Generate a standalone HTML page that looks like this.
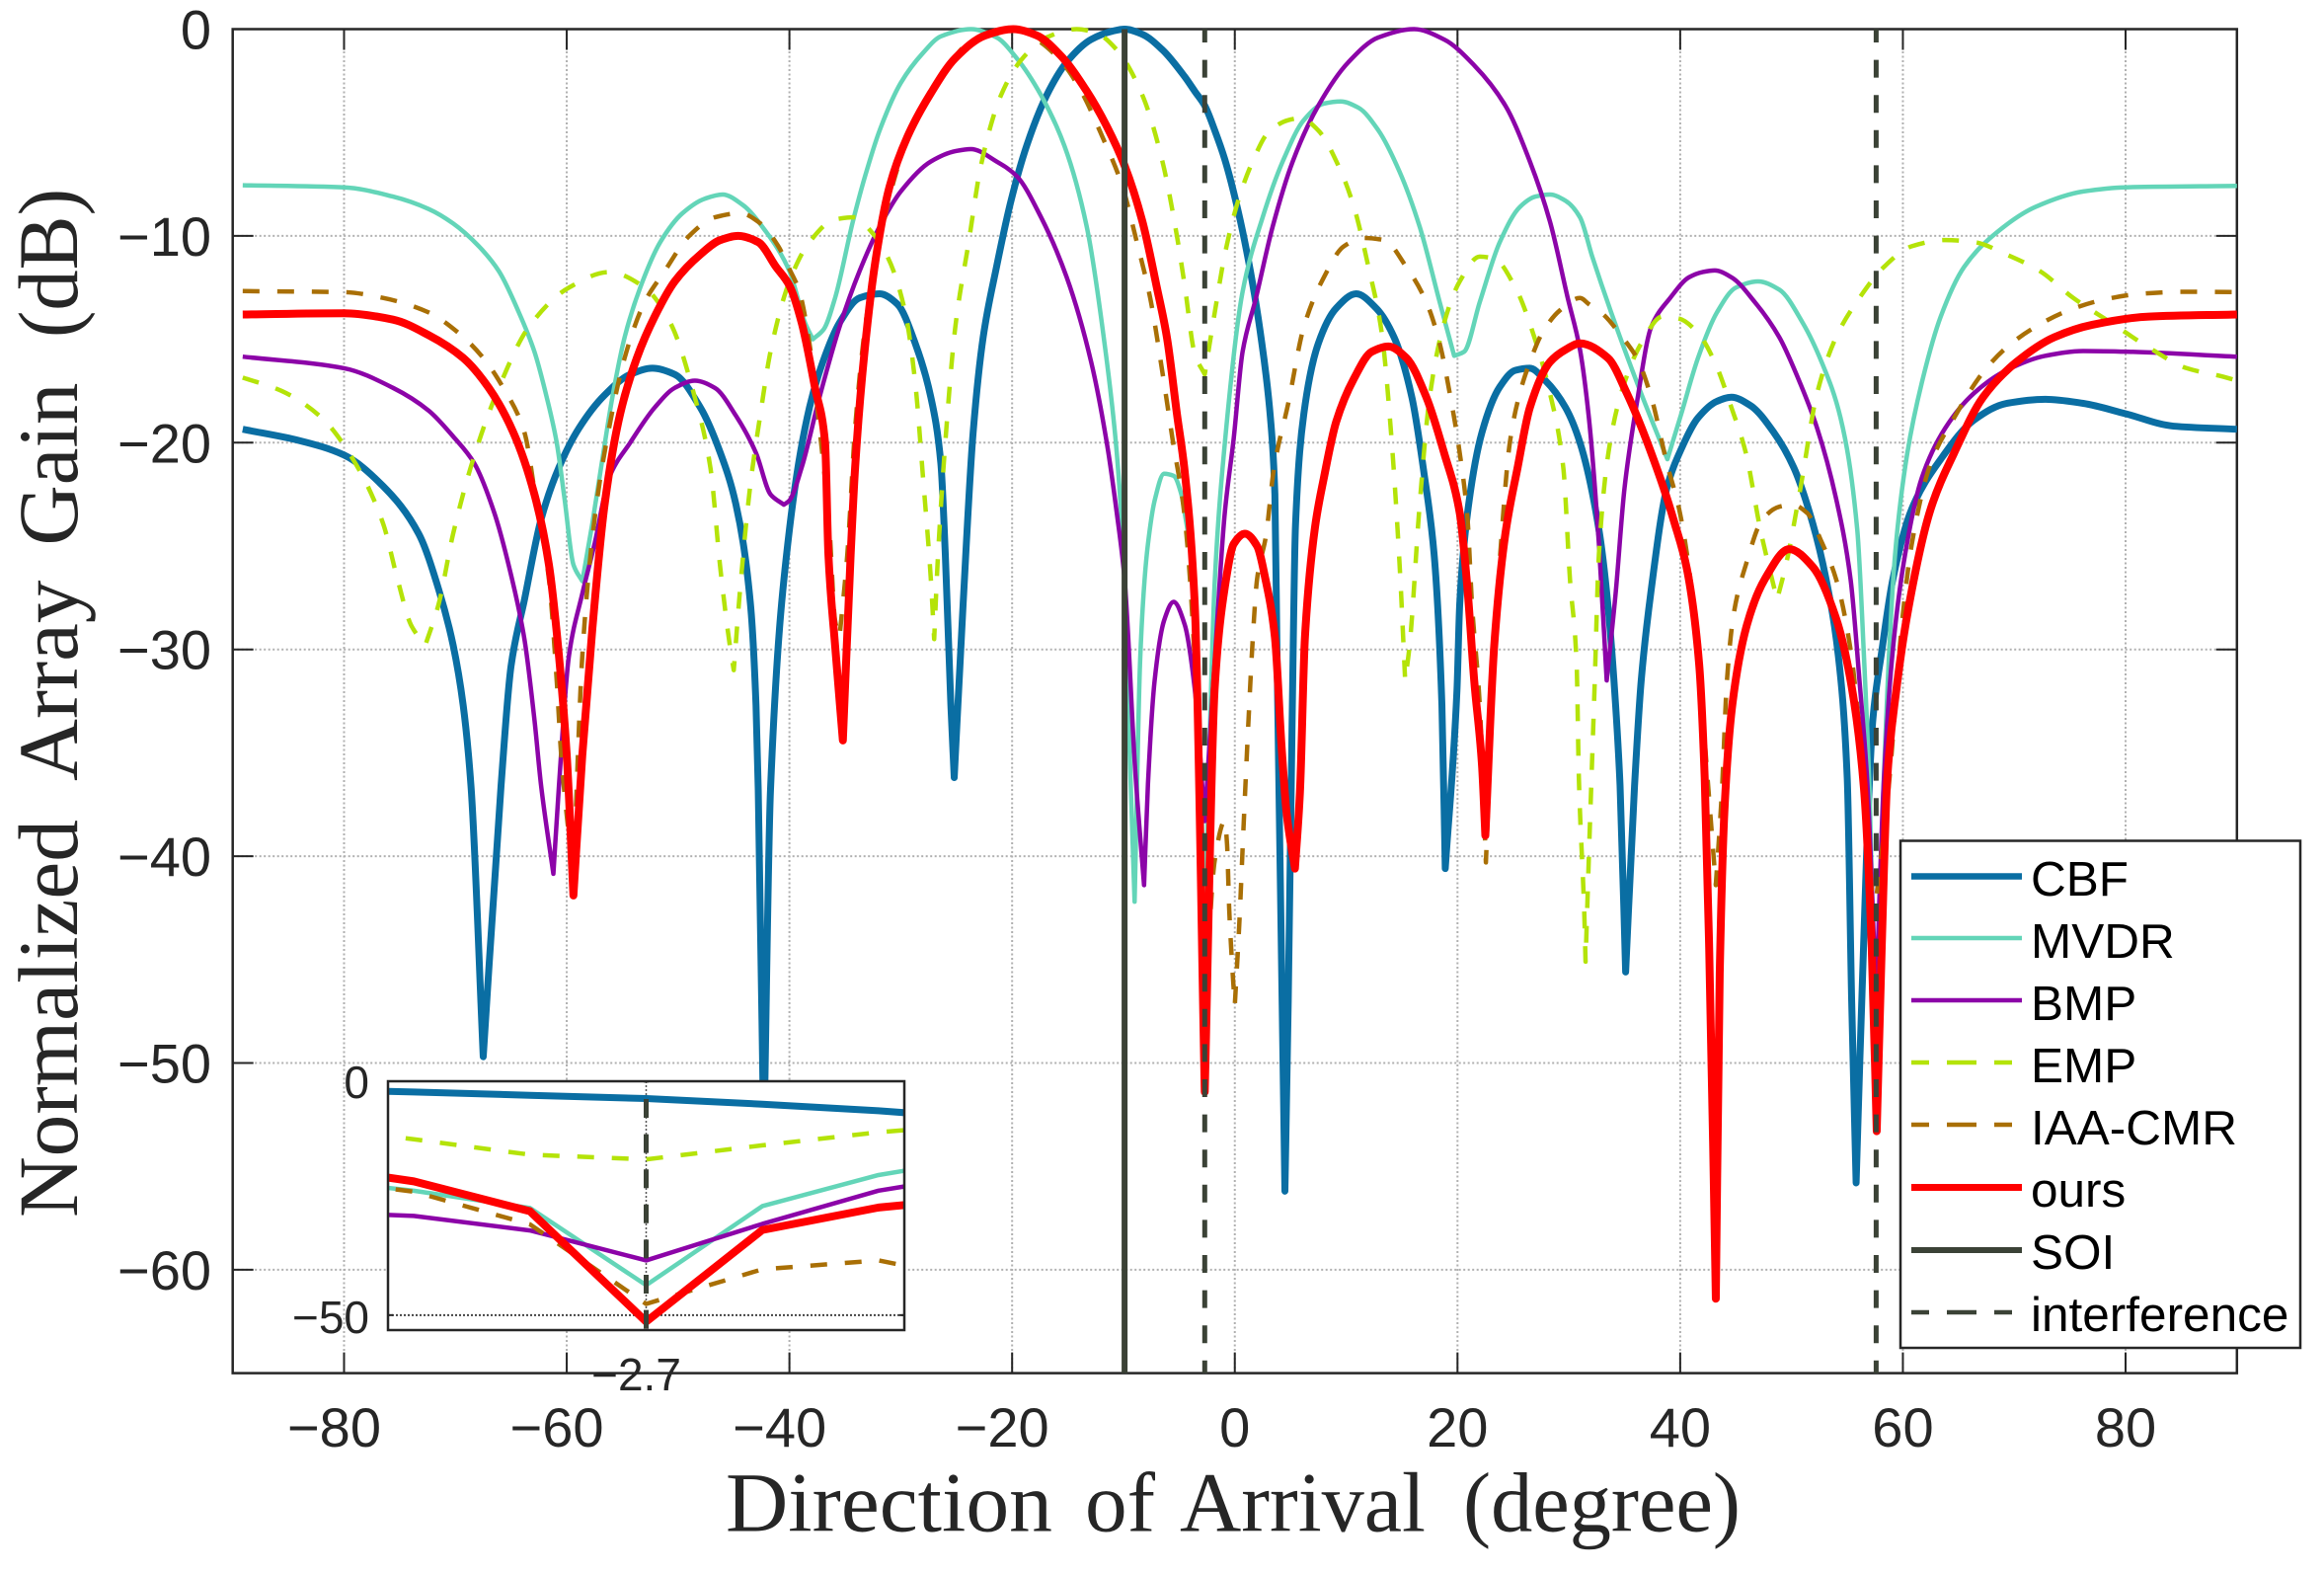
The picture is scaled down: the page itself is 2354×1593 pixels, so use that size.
<!DOCTYPE html>
<html lang="en">
<head>
<meta charset="utf-8">
<title>Normalized Array Gain vs Direction of Arrival</title>
<style>
html,body{margin:0;padding:0;background:#fff;width:2354px;height:1593px;overflow:hidden}
svg{display:block}
text{font-family:"Liberation Sans",sans-serif;fill:#262626}
.serif{font-family:"Liberation Serif",serif}
.leg{fill:#000;font-size:49.5px}
</style>
</head>
<body>
<svg id="chart" xmlns="http://www.w3.org/2000/svg" width="2354" height="1593" viewBox="0 0 2354 1593">
<defs><clipPath id="inset-clip"><rect x="393" y="1095" width="523" height="252"/></clipPath></defs>
<rect x="0" y="0" width="2354" height="1593" fill="#fff"/>
<g id="grid"></g>
<g id="axes"></g>
<g id="series"></g>
<g id="tickText"></g>
<text class="serif" transform="translate(78,1233) rotate(-90)" font-size="86"><tspan x="0" textLength="403" lengthAdjust="spacingAndGlyphs">Normalized</tspan> <tspan x="442" textLength="203.5" lengthAdjust="spacingAndGlyphs">Array</tspan> <tspan x="680.5" textLength="165" lengthAdjust="spacingAndGlyphs">Gain</tspan> <tspan x="891" textLength="151" lengthAdjust="spacingAndGlyphs">(dB)</tspan></text>
<text class="serif" y="1550.5" font-size="86"><tspan x="735" textLength="331" lengthAdjust="spacingAndGlyphs">Direction</tspan> <tspan x="1099" textLength="71" lengthAdjust="spacingAndGlyphs">of</tspan> <tspan x="1195" textLength="249" lengthAdjust="spacingAndGlyphs">Arrival</tspan> <tspan x="1482" textLength="281" lengthAdjust="spacingAndGlyphs">(degree)</tspan></text>

<g id="inset">
<rect x="393" y="1095" width="523" height="252" fill="#fff"/>
<g id="insetGrid"></g>
<g id="insetSeries" clip-path="url(#inset-clip)"></g>
<rect x="393" y="1095" width="523" height="252" fill="none" stroke="#262626" stroke-width="2.5"/>
<g id="insetText"></g>
</g>

<g id="legend">
<rect x="1925" y="851.5" width="405" height="513.5" fill="#fff" stroke="#262626" stroke-width="2.5"/>
<g><line x1="1936" x2="2048" y1="887.5" y2="887.5" stroke="#0a6ea3" stroke-width="6.5"/><text class="leg" x="2057" y="907">CBF</text></g>
<g><line x1="1936" x2="2048" y1="950" y2="950" stroke="#63d5b8" stroke-width="4.5"/><text class="leg" x="2057" y="970">MVDR</text></g>
<g><line x1="1936" x2="2048" y1="1013" y2="1013" stroke="#8c04a8" stroke-width="4.5"/><text class="leg" x="2057" y="1033">BMP</text></g>
<g><line x1="1936" x2="2038" y1="1076" y2="1076" stroke="#b4e308" stroke-width="4.5" stroke-dasharray="18 18 30 18 18"/><text class="leg" x="2057" y="1096">EMP</text></g>
<g><line x1="1936" x2="2038" y1="1139" y2="1139" stroke="#a96f05" stroke-width="4.5" stroke-dasharray="18 18 30 18 18"/><text class="leg" x="2057" y="1159">IAA-CMR</text></g>
<g><line x1="1936" x2="2048" y1="1202.5" y2="1202.5" stroke="#ff0000" stroke-width="7"/><text class="leg" x="2057" y="1222">ours</text></g>
<g><line x1="1936" x2="2048" y1="1266" y2="1266" stroke="#3b4236" stroke-width="6"/><text class="leg" x="2057" y="1285">SOI</text></g>
<g><line x1="1936" x2="2038" y1="1329" y2="1329" stroke="#3b4236" stroke-width="4.5" stroke-dasharray="18 18 30 18 18"/><text class="leg" x="2057" y="1348">interference</text></g>
</g>
</svg>

<script>
var xTickValues = [-80, -60, -40, -20, 0, 20, 40, 60, 80];
var xTickLabels = ['\u221280', '\u221260', '\u221240', '\u221220', '0', '20', '40', '60', '80'];
var yTickValues = [0, -10, -20, -30, -40, -50, -60];
var yTickLabels = ['0', '\u221210', '\u221220', '\u221230', '\u221240', '\u221250', '\u221260'];
var soiDoa = [-9.9];
var interferenceDoa = [-2.7, 57.6];
var insetXTickValues = [-2.7];
var insetXTickLabels = ['\u22122.7'];
var insetYTickValues = [0, -50];
var insetYTickLabels = ['0', '\u221250'];

var cbfDoa = [-89.1,-84,-80,-76.5,-73.3,-71.5,-70.2,-69.3,-68.6,-67.5,-65.9,-65,-63.8,-62.3,-60.7,-58.9,-56.6,-54.3,-52.3,-50.3,-48,-46.2,-44.8,-43.5,-43,-42.8,-42.3,-41.7,-40,-38.2,-37,-35.5,-33.7,-31.9,-30.3,-28.7,-27.3,-26.4,-26,-25.5,-25.2,-24.4,-23.5,-22.6,-21.4,-20.1,-18.7,-16.9,-15.1,-12.9,-11,-9.9,-8.3,-6.5,-4.5,-3.6,-2.7,-1.8,-0.9,0.3,1.4,2.3,3.2,3.6,3.8,4.1,4.5,4.8,5.15,5.45,6.2,7.5,9.1,10.9,12.7,14.3,15.9,17,17.9,18.6,18.9,19.95,20.2,20.9,22.2,23.8,25.2,26.5,27.9,29.7,31,32.7,33.5,34.2,34.6,35.1,35.9,36.5,37.4,38.8,40.1,41.6,43.3,44.6,46.3,48.4,50.2,51.9,53.1,54.2,55,55.4,55.8,56.8,57.3,58.1,59.1,60.8,63.4,66.4,69.3,72.8,76.2,80,84.3,90];
var cbfGain = [-19.35,-19.9,-20.6,-22.1,-24.4,-27.1,-29.8,-32.7,-36.6,-49.7,-36.6,-30.8,-27.6,-23.7,-21.2,-19.3,-17.7,-16.7,-16.4,-16.7,-18.3,-20.5,-23,-27.8,-32.7,-36.8,-54,-36.8,-24.2,-18.3,-16.1,-14.2,-13,-12.8,-13.3,-15.2,-17.8,-21,-25.4,-32.7,-36.2,-27.8,-19.5,-14.9,-11.5,-8.3,-5.65,-3.2,-1.6,-0.5,-0.1,0,-0.25,-1,-2.3,-3,-3.7,-4.9,-6.3,-8.8,-11.7,-14.7,-18.8,-22.5,-30.7,-41.6,-56.2,-47,-33.4,-24,-18.6,-15.2,-13.5,-12.8,-13.5,-14.9,-17.8,-21.5,-25.4,-32.7,-40.6,-32,-27.8,-23.4,-19.5,-17.3,-16.5,-16.4,-17,-18.3,-20,-24.2,-27.8,-32.7,-36.6,-45.6,-36.6,-31.5,-27.1,-22.2,-20.3,-18.8,-18,-17.8,-18.2,-19.5,-21.2,-23.9,-26.6,-30.3,-36.2,-47,-55.8,-38.9,-33.4,-30.1,-26.6,-23.2,-20.8,-18.9,-18.1,-17.9,-18.1,-18.6,-19.2,-19.35];

var mvdrDoa = [-89.1,-80,-75.6,-72.4,-70.2,-67.9,-66.1,-64.3,-62.9,-61.8,-60.9,-60.2,-59.4,-58.6,-57.7,-56.8,-55.9,-54.8,-53.4,-51.6,-49.6,-47.6,-46,-44.2,-42.1,-40,-38.6,-37.9,-36.9,-35.9,-34.3,-33.2,-31.9,-30,-28,-26.4,-23.7,-21.4,-19.6,-17.4,-15.3,-13.3,-11.7,-10.6,-9.9,-9.5,-9,-8.5,-8.1,-7.8,-7.2,-6.35,-5.5,-4.8,-4.5,-3.6,-2.7,-1.8,-0.9,0.7,2.5,4.3,6.2,8,9.5,11.1,12.9,14.8,16.6,18.4,19.7,20.6,22,23.8,25.6,27,28.3,29.7,31,32.1,33.8,36.3,38.85,40.1,41.6,43.3,45,47,48.9,51,52.7,54.4,55.9,56.5,57,57.6,58.25,59.3,60.4,61.7,63.4,65.5,68.5,71.9,76.2,80,90];
var mvdrGain = [-7.55,-7.65,-8.1,-8.7,-9.4,-10.5,-11.7,-13.7,-15.6,-17.8,-20,-22.7,-25.9,-26.7,-23.9,-20.8,-17.8,-14.9,-12.5,-10.3,-8.9,-8.2,-8,-8.5,-9.8,-11.7,-14.2,-15,-14.5,-13,-9.3,-7.1,-4.9,-2.6,-1.15,-0.35,0,-0.4,-1.4,-3.2,-5.65,-9.55,-15.2,-20.5,-26.6,-34,-42.2,-30.5,-26.6,-24.9,-22.8,-21.5,-21.6,-22.5,-23.4,-27.1,-43.6,-26.7,-20.05,-12.7,-9.1,-6.4,-4.4,-3.6,-3.5,-3.8,-4.9,-6.9,-9.55,-13.2,-15.8,-15.6,-13.2,-10.3,-8.6,-8.1,-8,-8.3,-9.1,-11,-13.7,-17.35,-20.8,-18.6,-15.9,-13.7,-12.5,-12.2,-12.6,-14.2,-16.1,-18.8,-24.2,-30.3,-36.8,-50,-36.8,-25.4,-20.5,-17.1,-13.9,-11.5,-9.8,-8.6,-7.85,-7.65,-7.58];

var bmpDoa = [-89.1,-80,-75.6,-72.4,-70.2,-68.3,-66.5,-65,-63.8,-62.9,-62.3,-61.2,-60.7,-59.8,-58.6,-57.5,-56.2,-54.3,-52.1,-50.3,-48.5,-46.7,-44.8,-43,-41.7,-40.5,-40,-38.9,-37.3,-35.5,-33.7,-31.9,-30,-27.3,-25.1,-23.7,-21.4,-19.6,-17.4,-15.1,-12.9,-11.5,-10.6,-9.9,-8.95,-8.15,-7.8,-7.2,-6.35,-5.5,-4.5,-3.6,-2.7,-1.8,-0.9,-0.1,0.7,1.9,3.4,5.2,7.5,10.2,12.9,16.1,18.8,21.5,24.3,26.5,28.3,29.9,31,31.8,32.7,33.4,34.2,35,36.1,37.4,39.1,40.8,42,43.1,44.6,46.7,48.9,50.6,52.3,54,55.3,56.1,56.8,57.6,58.25,59.1,60.2,61.7,63.8,66.4,69.3,72.8,76.2,80,90];
var bmpGain = [-15.84,-16.4,-17.35,-18.45,-19.7,-21,-23.4,-26.4,-29.5,-33.4,-36.6,-40.85,-36.6,-30.3,-27.3,-24.9,-21.7,-20,-18.3,-17.35,-17,-17.35,-18.7,-20.5,-22.5,-23,-22.8,-21.2,-17.8,-14.4,-11.7,-9.55,-7.85,-6.4,-5.9,-5.8,-6.4,-7.1,-9.1,-12,-16.1,-20,-23.4,-26.6,-35.8,-41.4,-36.5,-31.5,-28.6,-27.7,-28.8,-31.9,-38.3,-30.5,-23.4,-19.8,-15.6,-13,-9.55,-6.4,-3.7,-1.6,-0.4,0,-0.5,-1.75,-3.7,-6.4,-9.3,-13,-15.5,-18.8,-24.9,-31.5,-27.3,-22.2,-18.1,-14.4,-13,-12,-11.75,-11.67,-12,-13.2,-14.9,-16.9,-19.3,-22.7,-26.6,-31.5,-36.4,-47,-36.8,-30,-25.4,-21.7,-19.3,-17.6,-16.5,-15.8,-15.57,-15.6,-15.84];

var empDoa = [-89.1,-85.6,-82,-79.2,-76.5,-75.2,-74,-72.7,-71.5,-70.2,-68.4,-66.1,-63.4,-59.8,-56.2,-53,-50.7,-48.5,-47.1,-46.2,-45.3,-45,-44.4,-43.5,-42.6,-41.7,-40,-38.2,-35.9,-34.1,-32.8,-31.2,-29.6,-28.7,-28,-27.3,-27,-26.7,-26,-25.1,-23.9,-22.8,-21,-19.2,-16.9,-14.2,-12.4,-10.6,-8.3,-6.5,-5.2,-4.5,-3.6,-2.7,-1.8,-0.9,0.3,1.6,3,4.8,5.9,7.5,9.3,10.7,12,13.2,14,14.8,15.3,15.7,16.6,17.5,18.8,20.2,22,23.3,25.2,26.9,28.3,29.5,30.1,30.7,30.9,31.4,31.5,31.8,32.3,32.7,33.7,35,36.5,38.4,39.9,41.6,43.1,44.6,45.9,47.2,48.7,49.5,50.8,52.3,54,56.1,58.3,60.8,63.8,66.4,69.3,72.3,75.3,78.7,82.1,85.5,88.7,90];
var empGain = [-16.85,-17.5,-18.8,-20.8,-23.9,-26.6,-28.8,-29.8,-27.8,-24.4,-20.8,-17.35,-14.4,-12.5,-11.75,-12.5,-14.2,-17.8,-21.2,-26.1,-30,-31,-26.9,-22,-18.6,-15.6,-12.2,-10.3,-9.2,-9.1,-9.7,-11,-13.7,-17.1,-21.7,-26.6,-29.5,-25.9,-20,-14.4,-10.3,-6.6,-3.2,-1.5,-0.4,0,-0.2,-1,-3.2,-6.4,-10,-12.4,-15.7,-16.7,-13.7,-10.9,-8.3,-6.4,-5,-4.4,-4.3,-4.9,-6.6,-8.6,-11.5,-14.7,-19.3,-25.9,-31.5,-29.8,-23,-17.8,-14.2,-12.2,-11,-11.1,-12.5,-14.9,-17.6,-21.2,-26.6,-30.7,-36.2,-43,-45.1,-40,-32,-25.4,-20,-17.1,-15.2,-13.9,-14,-14.7,-16.1,-18.3,-20.5,-24.2,-27.6,-25.9,-22.2,-17.6,-14.9,-13,-11.5,-10.5,-10.2,-10.3,-10.9,-11.7,-13,-14.2,-15.4,-16.4,-16.8,-17];

var iaaDoa = [-89.1,-80,-76.5,-72.4,-69.7,-67.5,-65.7,-63.8,-62.7,-61.6,-60.9,-60.5,-59.4,-58.6,-57.5,-56.2,-54.8,-53,-51.2,-49,-46.7,-44.4,-42.6,-41,-40,-39.1,-38.2,-37.3,-36.4,-35.9,-35.5,-34.8,-34.1,-33.2,-31.9,-30.5,-28.7,-26.4,-24.2,-21.4,-19.6,-17.4,-15.3,-13.8,-11.9,-10.1,-8.8,-7.6,-6.5,-5.6,-4.5,-3.6,-2.7,-1.8,-0.9,-0.7,-0.5,-0.2,0,0.4,0.8,1.25,1.6,2,2.8,3.5,4.8,6.2,8,9.8,11.6,13.4,15.4,17.2,18.4,19.3,20.2,20.9,21.3,22,22.55,23.3,24,24.7,25.6,26.5,27.6,29.2,31,31.8,33.1,34.8,36.1,37.4,38.8,39.9,40.8,41.6,42.3,43.2,43.75,44.2,44.8,45.9,47.4,48.9,50.1,51.4,52.7,54,55.3,56.1,57.4,58.7,60,60.8,62.5,64.6,67.2,69.3,71.9,74.9,77.9,81.3,85.5,90];
var iaaGain = [-12.67,-12.72,-13,-13.7,-14.7,-15.9,-17.35,-19.5,-23,-26.6,-31.5,-35.1,-41,-30.3,-23.7,-19.3,-15.9,-13.2,-11.7,-10,-9.1,-8.9,-9.4,-10.5,-11.6,-12.7,-15.2,-19.3,-24.2,-28.6,-29.4,-25.4,-19.3,-14.4,-10.3,-7.1,-4.4,-2.4,-0.8,-0.1,0,-0.65,-1.75,-3,-5.2,-7.6,-10.3,-13,-16.6,-19.8,-23.6,-30.6,-47.6,-40.2,-38.3,-39.4,-42.6,-45.6,-47.2,-43.3,-38.4,-33.2,-29.6,-26.6,-24.5,-21.3,-18.1,-14.4,-12,-10.5,-10.1,-10.2,-11.5,-13.2,-15.2,-17.6,-20.5,-23.7,-27.8,-32.7,-40.3,-30.3,-24.2,-20,-17.6,-16.1,-14.7,-13.6,-13,-13.3,-13.8,-14.9,-15.9,-17.8,-21,-23.2,-26.1,-30,-35.1,-41.4,-36.8,-31.5,-28.3,-25.9,-23.7,-23.1,-23,-23.4,-24.8,-26.6,-30,-33.9,-43,-36.8,-28.3,-24.9,-21,-18.8,-16.6,-15.4,-14.4,-13.6,-13.1,-12.8,-12.7,-12.72];

var oursDoa = [-89.1,-80,-75.6,-72.4,-69.3,-67,-64.8,-62.9,-61.6,-60.7,-60,-59.4,-58.6,-57.7,-56.6,-55.2,-53.7,-52.1,-50.3,-48,-46.2,-44.6,-42.8,-41.2,-40,-38.9,-37.7,-36.8,-36.5,-35.9,-35.2,-34.5,-34.1,-33.4,-32.3,-31,-29.4,-27.3,-25.1,-22.4,-19.9,-17.8,-15.6,-13.3,-11.5,-9.9,-8.3,-7,-6.1,-5.2,-4.5,-3.6,-2.7,-1.8,-0.9,-0.1,0.9,2,2.75,3.6,4.2,4.65,5.4,5.85,6.3,7.2,8,9.1,10.7,12.3,13.8,15.4,17.2,18.8,20.2,20.9,21.5,22.2,22.5,23.3,24.3,25.4,26.5,28.3,29.7,31,33.5,35.2,38.2,39.5,40.6,41.7,42.2,42.6,42.96,43.2,43.55,44,44.7,46,47.6,49.8,51.9,54,55.4,56.5,57.2,57.65,58.1,58.6,59.4,60.5,62.5,64.6,67.2,70.2,73.6,77,82.1,90];
var oursGain = [-13.8,-13.74,-14.05,-14.8,-15.9,-17.35,-19.5,-22.5,-25.9,-30.3,-35.1,-41.9,-35.1,-29,-23,-18.6,-15.9,-13.9,-12.2,-10.9,-10.2,-10,-10.3,-11.5,-12.4,-14.2,-17.35,-20,-25.4,-29.8,-34.4,-25.4,-21.2,-16.4,-11.3,-7.6,-5.2,-3.1,-1.4,-0.3,0,-0.3,-1.3,-3,-4.7,-6.6,-9.3,-12.5,-14.9,-18.6,-21.4,-27.8,-51.4,-31.8,-27,-24.9,-24.4,-25,-26.6,-29.4,-34.7,-37.9,-40.6,-36.9,-29.4,-24.1,-21.7,-19,-16.9,-15.6,-15.35,-15.9,-17.8,-20.5,-23.4,-27.1,-31.5,-35.6,-39,-29.8,-24.4,-21.2,-18.3,-16.1,-15.5,-15.2,-15.9,-17.6,-21.7,-23.9,-26.1,-30.7,-36.2,-44.4,-54,-61.4,-45.7,-37.5,-32.6,-28.8,-26.6,-25.15,-26,-28.5,-31.8,-36.7,-44.4,-53.3,-44.4,-36.2,-32,-28,-23.2,-20.5,-17.8,-16.1,-14.9,-14.3,-13.9,-13.8];

var seriesDefs = [
  {name: 'cbf', doa: cbfDoa, gain: cbfGain, color: '#0a6ea3', width: 7, dash: ''},
  {name: 'mvdr', doa: mvdrDoa, gain: mvdrGain, color: '#63d5b8', width: 4.5, dash: ''},
  {name: 'bmp', doa: bmpDoa, gain: bmpGain, color: '#8c04a8', width: 4.5, dash: ''},
  {name: 'emp', doa: empDoa, gain: empGain, color: '#b4e308', width: 4.5, dash: '17 18'},
  {name: 'iaa-cmr', doa: iaaDoa, gain: iaaGain, color: '#a96f05', width: 4.5, dash: '17 18'},
  {name: 'ours', doa: oursDoa, gain: oursGain, color: '#ff0000', width: 8, dash: ''}
];

var NS = 'http://www.w3.org/2000/svg';
var xMin = -90, xMax = 90, yMin = -65, yMax = 0;
var plotL = 235.7, plotR = 2265.8, plotT = 29.5, plotB = 1390.6;
var inXMin = -4.7, inXMax = -0.7, inYMin = -53.2, inYMax = 0;
var inL = 393, inR = 916, inT = 1095, inB = 1347;

function xScale(d) { return plotL + (d - xMin) / (xMax - xMin) * (plotR - plotL); }
function yScale(g) { return plotT + (yMax - g) / (yMax - yMin) * (plotB - plotT); }
function inX(d) { return inL + (d - inXMin) / (inXMax - inXMin) * (inR - inL); }
function inY(g) { return inT + (inYMax - g) / (inYMax - inYMin) * (inB - inT); }

function make(tag, attrs, parent) {
  var el = document.createElementNS(NS, tag);
  for (var k in attrs) { el.setAttribute(k, attrs[k]); }
  parent.appendChild(el);
  return el;
}
function pointsFor(doa, gain, fx, fy) {
  var pts = [];
  for (var i = 0; i < doa.length; i++) { pts.push(fx(doa[i]).toFixed(2) + ',' + fy(gain[i]).toFixed(2)); }
  return pts.join(' ');
}
/* Monotone cubic through the read values: lobes stay smooth, deep nulls stay sharp corners. */
function curveFor(doa, gain, fx, fy) {
  var n = doa.length, X = [], Y = [], S = [], L = [], R = [], i;
  for (i = 0; i < n; i++) { X.push(fx(doa[i])); Y.push(fy(gain[i])); }
  for (i = 0; i < n - 1; i++) { S.push((Y[i + 1] - Y[i]) / (X[i + 1] - X[i])); }
  L[0] = R[0] = S[0];
  L[n - 1] = R[n - 1] = S[n - 2];
  for (i = 1; i < n - 1; i++) {
    var a = S[i - 1], b = S[i];
    if (a > 0 && b < 0) { L[i] = a; R[i] = b; }
    else if (a * b <= 0) { L[i] = R[i] = 0; }
    else {
      var h0 = X[i] - X[i - 1], h1 = X[i + 1] - X[i];
      var w0 = 2 * h1 + h0, w1 = h1 + 2 * h0;
      L[i] = R[i] = (w0 + w1) / (w0 / a + w1 / b);
    }
  }
  var d = 'M' + X[0].toFixed(2) + ' ' + Y[0].toFixed(2);
  for (i = 0; i < n - 1; i++) {
    var h = (X[i + 1] - X[i]) / 3;
    d += 'C' + (X[i] + h).toFixed(2) + ' ' + (Y[i] + R[i] * h).toFixed(2) + ' ' +
         (X[i + 1] - h).toFixed(2) + ' ' + (Y[i + 1] - L[i + 1] * h).toFixed(2) + ' ' +
         X[i + 1].toFixed(2) + ' ' + Y[i + 1].toFixed(2);
  }
  return d;
}

var grid = document.getElementById('grid');
var axes = document.getElementById('axes');
var seriesG = document.getElementById('series');
var tickText = document.getElementById('tickText');
var insetGrid = document.getElementById('insetGrid');
var insetSeries = document.getElementById('insetSeries');
var insetText = document.getElementById('insetText');
var gridStroke = '#b0b0b0', gridDash = '2 2.5';
var axisColor = '#262626';

xTickValues.forEach(function (v, i) {
  var px = xScale(v);
  var gl = make('line', {x1: px, x2: px, y1: plotT, y2: plotB, stroke: gridStroke, 'stroke-width': 2, 'stroke-dasharray': gridDash}, grid);
  
  
  var t1 = make('line', {x1: px, x2: px, y1: plotB, y2: plotB - 21, stroke: axisColor, 'stroke-width': 2}, axes);
  
  
  var t2 = make('line', {x1: px, x2: px, y1: plotT, y2: plotT + 21, stroke: axisColor, 'stroke-width': 2}, axes);
  
  
  var lab = make('text', {x: px + (v < 0 ? -10 : 0), y: 1465, 'text-anchor': 'middle', 'font-size': 56}, tickText);
  lab.textContent = xTickLabels[i];
  
  
});

yTickValues.forEach(function (v, i) {
  var py = yScale(v);
  var gl = make('line', {x1: plotL, x2: plotR, y1: py, y2: py, stroke: gridStroke, 'stroke-width': 2, 'stroke-dasharray': gridDash}, grid);
  
  
  var t1 = make('line', {x1: plotL, x2: plotL + 21, y1: py, y2: py, stroke: axisColor, 'stroke-width': 2}, axes);
  
  
  var t2 = make('line', {x1: plotR, x2: plotR - 21, y1: py, y2: py, stroke: axisColor, 'stroke-width': 2}, axes);
  
  
  var lab = make('text', {x: 214, y: py + 20, 'text-anchor': 'end', 'font-size': 56}, tickText);
  lab.textContent = yTickLabels[i];
  
  
});

var box = make('rect', {x: plotL, y: plotT, width: plotR - plotL, height: plotB - plotT, fill: 'none', stroke: axisColor, 'stroke-width': 2.5}, axes);



seriesDefs.forEach(function (s) {
  var a = {d: curveFor(s.doa, s.gain, xScale, yScale), fill: 'none', stroke: s.color, 'stroke-width': s.width, 'stroke-linejoin': 'round', 'stroke-linecap': 'butt'};
  if (s.dash) { a['stroke-dasharray'] = s.dash; }
  var line = make('path', a, seriesG);
  
  
  var b = {points: pointsFor(s.doa, s.gain, inX, inY), fill: 'none', stroke: s.color, 'stroke-width': s.width, 'stroke-linejoin': 'round', 'stroke-linecap': 'butt'};
  if (s.dash) { b['stroke-dasharray'] = s.dash; }
  var inLine = make('polyline', b, insetSeries);
  
  
});

soiDoa.forEach(function (d) {
  var l = make('line', {x1: xScale(d), x2: xScale(d), y1: plotT, y2: plotB, stroke: '#3b4236', 'stroke-width': 6}, seriesG);
  
  
});
interferenceDoa.forEach(function (d) {
  var l = make('line', {x1: xScale(d), x2: xScale(d), y1: plotT, y2: plotB, stroke: '#3b4236', 'stroke-width': 5, 'stroke-dasharray': '18 17.6', 'stroke-dashoffset': 4.5}, seriesG);
  
  
});

insetXTickValues.forEach(function (v, i) {
  var px = inX(v);
  var gl = make('line', {x1: px, x2: px, y1: inT, y2: inB, stroke: '#555', 'stroke-width': 1.5, 'stroke-dasharray': '2 2'}, insetGrid);
  
  
  var l = make('line', {x1: px, x2: px, y1: inT, y2: inB, stroke: '#3b4236', 'stroke-width': 5, 'stroke-dasharray': '19 16.6', 'stroke-dashoffset': -18}, insetSeries);
  
  
  var lab = make('text', {x: 644.5, y: 1408, 'text-anchor': 'middle', 'font-size': 46}, insetText);
  lab.textContent = insetXTickLabels[i];
  
  
});
insetYTickValues.forEach(function (v, i) {
  var py = inY(v);
  if (v !== 0) {
    var gl = make('line', {x1: inL, x2: inR, y1: py, y2: py, stroke: '#444', 'stroke-width': 2, 'stroke-dasharray': '2 2'}, insetGrid);
    
    
    var t1 = make('line', {x1: inL, x2: inL + 5, y1: py, y2: py, stroke: axisColor, 'stroke-width': 2}, insetGrid);
    
    
    var t2 = make('line', {x1: inR, x2: inR - 5, y1: py, y2: py, stroke: axisColor, 'stroke-width': 2}, insetGrid);
    
    
  }
  var lab = make('text', {x: 374, y: v === 0 ? 1112 : 1350, 'text-anchor': 'end', 'font-size': 46}, insetText);
  lab.textContent = insetYTickLabels[i];
  
  
});
</script>
</body>
</html>
